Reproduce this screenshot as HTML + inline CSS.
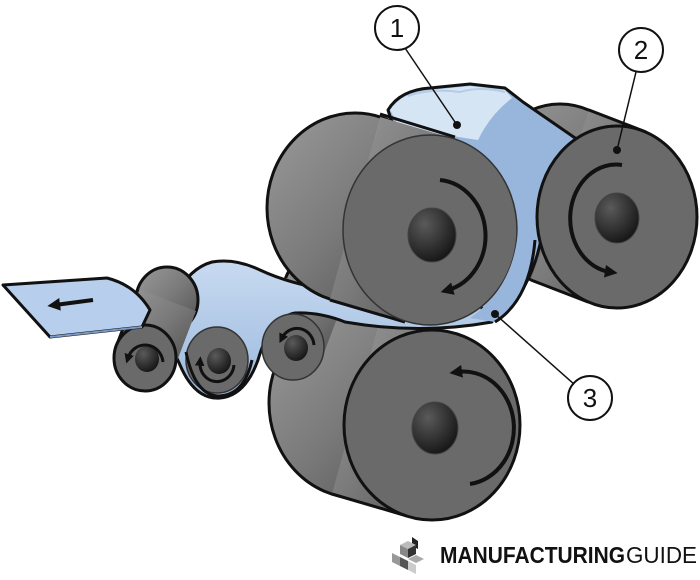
<!DOCTYPE html>
<html><head><style>
html,body{margin:0;padding:0;background:#fff;width:700px;height:580px;overflow:hidden}
</style></head><body>
<svg width="700" height="580" viewBox="0 0 700 580" xmlns="http://www.w3.org/2000/svg" font-family="Liberation Sans, sans-serif">
<defs>
<radialGradient id="hole" cx="0.35" cy="0.3" r="0.75"><stop offset="0" stop-color="#5a5a5a"/><stop offset="1" stop-color="#151515"/></radialGradient>
<linearGradient id="body" x1="0" y1="0" x2="1" y2="1"><stop offset="0" stop-color="#9a9a9a"/><stop offset="0.5" stop-color="#7a7a7a"/><stop offset="1" stop-color="#4e4e4e"/></linearGradient>
<linearGradient id="sheet" x1="0" y1="0" x2="0" y2="1"><stop offset="0" stop-color="#c8daf0"/><stop offset="1" stop-color="#9ab9de"/></linearGradient>
<marker id="ah" viewBox="0 0 10 10" refX="4" refY="5" markerWidth="3.2" markerHeight="3.2" orient="auto"><path d="M0,0L10,5L0,10z" fill="#111"/></marker>
</defs>

<!-- right roller body -->
<g stroke="#111" stroke-width="3" stroke-linejoin="round">
<ellipse cx="560" cy="195" rx="80" ry="91" fill="url(#body)"/>
<path d="M589,110 L646,132 L588,302 L531,280 Z" fill="url(#body)" stroke="none"/>
<path d="M589,110 L646,132 M531,280 L588,302" fill="none"/>
</g>

<!-- top sheet -->
<path d="M388,110 Q400,90 430,88 L470,84 L505,88 L523,102 L578,140 L545,210 Q540,280 500,318 L450,300 Z" fill="#98b6dc" stroke="#111" stroke-width="3" stroke-linejoin="round"/>
<path d="M390,110 Q402,92 430,90 L470,86 L505,90 L512,98 Q490,115 478,140 L400,128 Z" fill="#d6e5f4"/>
<path d="M408,96 Q430,88 460,92 Q480,86 505,92" fill="none" stroke="#b5cce6" stroke-width="2"/>

<!-- right roller face -->
<ellipse cx="617" cy="217" rx="80" ry="91" fill="#6a6a6a" stroke="#111" stroke-width="3"/>
<ellipse cx="617" cy="218" rx="22" ry="25" fill="url(#hole)" stroke="#444" stroke-width="1"/>

<!-- bottom roller -->
<g stroke="#111" stroke-width="3" stroke-linejoin="round">
<ellipse cx="357" cy="403" rx="88" ry="95" fill="url(#body)"/>
<path d="M382,312 L457,334 L407,516 L332,494 Z" fill="url(#body)" stroke="none"/>
<path d="M332,494 L407,516" fill="none"/>
</g>
<ellipse cx="432" cy="425" rx="88" ry="95" fill="#6a6a6a" stroke="#111" stroke-width="3"/>
<ellipse cx="435" cy="428" rx="23" ry="26" fill="url(#hole)" stroke="#444" stroke-width="1"/>

<!-- small roller 2 & 3 bodies -->
<g stroke="#111" stroke-width="3" stroke-linejoin="round">
<ellipse cx="315" cy="289" rx="31" ry="33" fill="url(#body)"/>
<path d="M344,300 L322,358 L264,336 L286,278 Z" fill="url(#body)" stroke="none"/>
<ellipse cx="239" cy="302" rx="31" ry="33" fill="url(#body)"/>
<path d="M268,313 L246,371 L188,349 L210,291 Z" fill="url(#body)" stroke="none"/>
<path d="M188,349 L210,291" fill="none"/>
</g>

<!-- lower sheet -->
<path d="M140,327 Q165,330 180,365 Q195,400 220,398 Q245,396 258,360 Q270,318 295,313 Q320,312 345,322 Q420,335 492,322 L470,292 Q400,302 330,290 Q290,284 260,270 Q235,258 212,262 Q190,268 175,296 Z" fill="url(#sheet)" stroke="#111" stroke-width="3" stroke-linejoin="round"/>

<!-- small roller 1 -->
<g stroke="#111" stroke-width="3" stroke-linejoin="round">
<ellipse cx="167" cy="300" rx="31" ry="33" fill="url(#body)"/>
<path d="M196,311 L174,369 L116,347 L138,289 Z" fill="url(#body)" stroke="none"/>
<path d="M116,347 L138,289" fill="none"/>
</g>
<ellipse cx="145" cy="358" rx="31" ry="33" fill="#6a6a6a" stroke="#111" stroke-width="3"/>
<ellipse cx="147" cy="359" rx="12" ry="13" fill="url(#hole)"/>
<!-- flap -->
<path d="M3,285 L107,278 Q135,285 150,310 L142,327 L50,337 Z" fill="#b7cfec" stroke="#111" stroke-width="3" stroke-linejoin="round"/>
<path d="M50,337 L142,327" stroke="#7a99c4" stroke-width="2"/>

<!-- small roller 2,3 faces -->
<ellipse cx="217" cy="360" rx="31" ry="33" fill="#6a6a6a" stroke="#333" stroke-width="1.5"/>
<ellipse cx="219" cy="361" rx="12" ry="13" fill="url(#hole)"/>
<ellipse cx="293" cy="347" rx="31" ry="33" fill="#6a6a6a" stroke="#333" stroke-width="1.5"/>
<ellipse cx="296" cy="348" rx="12" ry="13" fill="url(#hole)"/>
<path d="M186,352 Q195,395 218,396 Q244,396 252,360" fill="none" stroke="#111" stroke-width="3"/>

<!-- top roller -->
<g stroke="#111" stroke-width="3" stroke-linejoin="round">
<ellipse cx="355" cy="208" rx="88" ry="95" fill="url(#body)"/>
<path d="M380,117 L455,139 L405,321 L330,299 Z" fill="url(#body)" stroke="none"/>
<path d="M380,114 L455,137 M330,300 L405,322" fill="none"/>
</g>
<ellipse cx="430" cy="230" rx="87" ry="95" fill="#6a6a6a" stroke="#333" stroke-width="1.5"/>
<ellipse cx="432" cy="235" rx="24" ry="27" fill="url(#hole)" stroke="#444" stroke-width="1"/>
<!-- sheet wrap at right of top roller -->
<path d="M505,160 Q522,200 517,240 Q510,290 470,318 L495,322 Q530,300 535,240 Q538,200 520,150 Z" fill="#98b6dc"/>
<path d="M495,322 Q530,300 535,240" fill="none" stroke="#111" stroke-width="3"/>

<!-- rotation arrows -->
<g fill="none" stroke="#111" stroke-width="4" marker-end="url(#ah)">
<path d="M440,180 A50,56 0 0 1 448,290"/>
<path d="M622,165 A45,53 0 0 0 610,272"/>
<path d="M470,484 A50,56 0 0 0 457,372"/>
</g>
<g fill="none" stroke="#111" stroke-width="3" marker-end="url(#ah)">
<path d="M163,362 A18,19 0 0 0 128,358"/>
<path d="M234,365 A17,18 0 0 1 200,362"/>
<path d="M314,345 A17,18 0 0 0 282,338"/>
</g>
<path d="M93,300 L55,305" stroke="#111" stroke-width="4" marker-end="url(#ah)"/>

<!-- callouts -->
<g stroke="#111" stroke-width="1.5" fill="#fff">
<line x1="405" y1="48" x2="457" y2="125"/>
<line x1="636" y1="72" x2="617" y2="150"/>
<line x1="575" y1="385" x2="495" y2="314"/>
<circle cx="397" cy="28" r="22" stroke-width="2"/>
<circle cx="641" cy="50" r="22" stroke-width="2"/>
<circle cx="590" cy="398" r="22" stroke-width="2"/>
</g>
<g fill="#111"><circle cx="457" cy="125" r="4"/><circle cx="617" cy="150" r="4"/><circle cx="495" cy="314" r="4"/></g>
<g font-size="26" text-anchor="middle" fill="#111">
<text x="397" y="37">1</text><text x="641" y="59">2</text><text x="590" y="407">3</text>
</g>

<!-- logo -->
<g transform="translate(388,537)">
<path d="M24,0 L30,4 L30,12 L24,9Z" fill="#222"/>
<path d="M12,8 L20,4 L28,8 L20,12Z" fill="#bbb"/>
<path d="M12,8 L20,12 L20,21 L12,17Z" fill="#888"/>
<path d="M20,12 L28,8 L28,17 L20,21Z" fill="#333"/>
<path d="M4,16 L12,20 L12,29 L4,25Z" fill="#999"/>
<path d="M20,22 L28,18 L36,22 L28,26Z" fill="#aaa"/>
<path d="M20,24 L28,28 L28,37 L20,33Z" fill="#ccc"/>
<path d="M12,20 L20,24 L20,33 L12,29Z" fill="#555"/>
</g>
<text x="440" y="563" font-size="23" font-weight="bold" fill="#111" textLength="185" lengthAdjust="spacingAndGlyphs">MANUFACTURING</text>
<text x="626" y="563" font-size="23" fill="#111" textLength="71" lengthAdjust="spacingAndGlyphs">GUIDE</text>
</svg>
</body></html>
